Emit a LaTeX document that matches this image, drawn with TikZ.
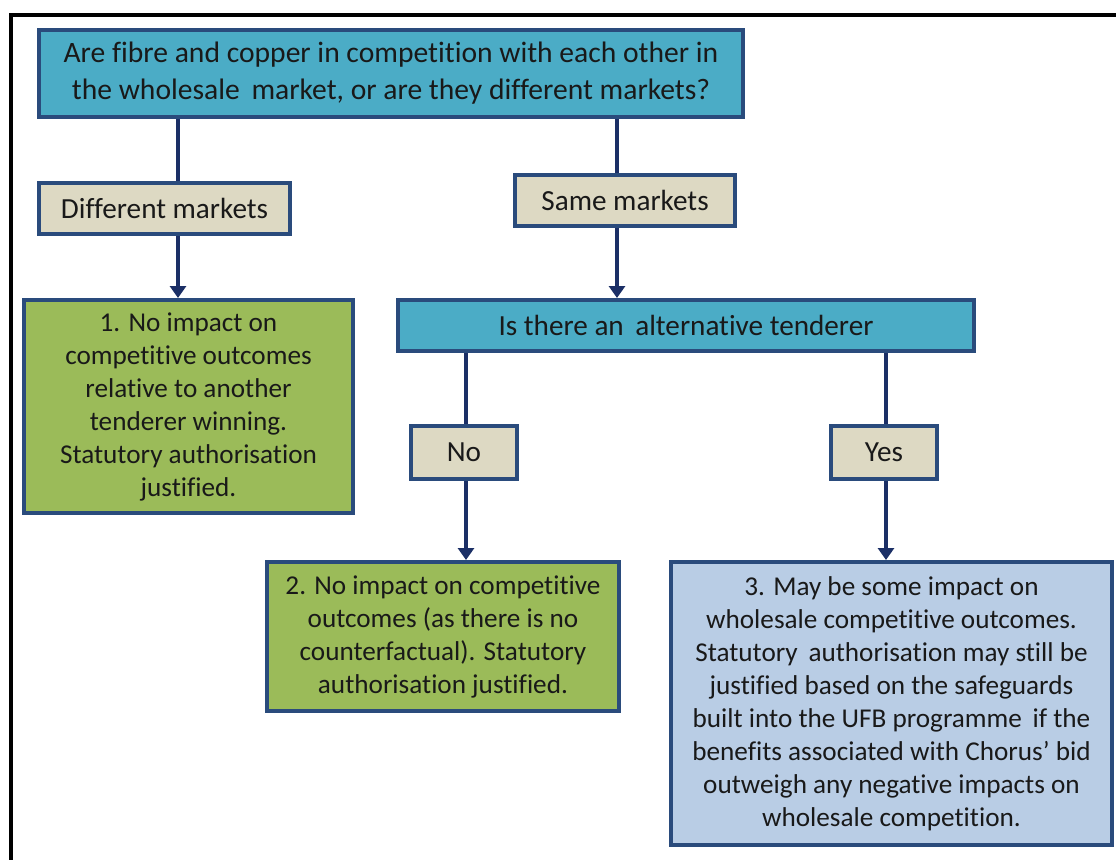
\documentclass[tikz,border=0pt]{standalone}
\usepackage{fontspec}
\setmainfont{Carlito}[Ligatures=NoCommon]
\usetikzlibrary{arrows.meta, positioning, calc}
\usepackage{xcolor}
\definecolor{qblue}{HTML}{4BACC6}
\definecolor{tan}{HTML}{DDD9C3}
\definecolor{leaf}{HTML}{9BBB59}
\definecolor{pale}{HTML}{B9CDE5}
\definecolor{edge}{HTML}{2A4B7C}
\definecolor{navy}{HTML}{1B2F66}

\begin{document}
\begin{tikzpicture}[
    x = 0.5pt, y = -0.5pt,
    every node/.style = {align=center, text=black!90,
                         font=\fontsize{13.6}{16.5}\selectfont},
    box/.style      = {draw=edge, line width=2pt, inner sep=0pt},
    qbox/.style     = {box, fill=qblue},
    ansbox/.style   = {box, fill=tan, font=\fontsize{14.6}{17}\selectfont},
    resbox/.style   = {box, fill=leaf},
    lastbox/.style  = {box, fill=pale},
    link/.style     = {draw=navy, line width=2pt},
    arr/.style      = {link, -{Triangle[length=6pt,width=8pt]}},
    frame/.style    = {draw=black, line width=2pt},
]
\useasboundingbox (0,0) rectangle (1116,859);

%% Outer frame (cut off at right and bottom)
\draw[frame] (11,880) |- (1140,15);

%% Question
\node[qbox, minimum width=352pt, minimum height=43.5pt,
      font=\fontsize{14.8}{18.5}\selectfont] (q) at (391,73.5)
    {Are fibre and copper in competition with each other in\\
     the wholesale\ \,market, or are they different markets?};

%% Market answers
\node[ansbox, minimum width=125.5pt, minimum height=25.5pt] (diff) at (164.5,208.5)
    {Different markets};
\node[ansbox, minimum width=110pt, minimum height=25.5pt] (same) at (625,200.5)
    {Same markets};

%% Outcome 1
\node[resbox, minimum width=164.5pt, minimum height=106.5pt] (out1) at (188.5,406.5)
    {1. No impact on\\competitive outcomes\\relative to another\\
     tenderer winning.\\Statutory authorisation\\justified.};

%% Second question
\node[qbox, minimum width=288pt, minimum height=25.5pt,
      font=\fontsize{14.6}{17}\selectfont] (alt) at (686,325.5)
    {Is there an\ \,alternative tenderer};

%% Yes / No
\node[ansbox, minimum width=53pt, minimum height=26.5pt] (no)  at (464,452.5) {No};
\node[ansbox, minimum width=53pt, minimum height=26.5pt] (yes) at (884,452.5) {Yes};

%% Outcomes 2 and 3
\node[resbox, minimum width=176pt, minimum height=74.5pt] (out2) at (443,636.5)
    {2. No impact on competitive\\outcomes (as there is no\\
     counterfactual). Statutory\\authorisation justified.};
\node[lastbox, minimum width=220.5pt, minimum height=141.5pt] (out3) at (891.5,703.5)
    {3. May be some impact on\\wholesale competitive outcomes.\\
     Statutory\ \,authorisation may still be\\justified based on the safeguards\\
     built into the UFB programme\ \,if the\\benefits associated with Chorus’ bid\\
     outweigh any negative impacts on\\wholesale competition.};

%% Connector columns
\coordinate (c1) at (178,0);
\coordinate (c2) at (617,0);
\coordinate (c3) at (466,0);
\coordinate (c4) at (886,0);

%% Connectors
\draw[link] (q.south -| c1)    -- (diff.north -| c1);
\draw[arr]  (diff.south -| c1) -- (out1.north -| c1);
\draw[link] (q.south -| c2)    -- (same.north -| c2);
\draw[arr]  (same.south -| c2) -- (alt.north -| c2);
\draw[link] (alt.south -| c3)  -- (no.north -| c3);
\draw[arr]  (no.south -| c3)   -- (out2.north -| c3);
\draw[link] (alt.south -| c4)  -- (yes.north -| c4);
\draw[arr]  (yes.south -| c4)  -- (out3.north -| c4);

\end{tikzpicture}
\end{document}
